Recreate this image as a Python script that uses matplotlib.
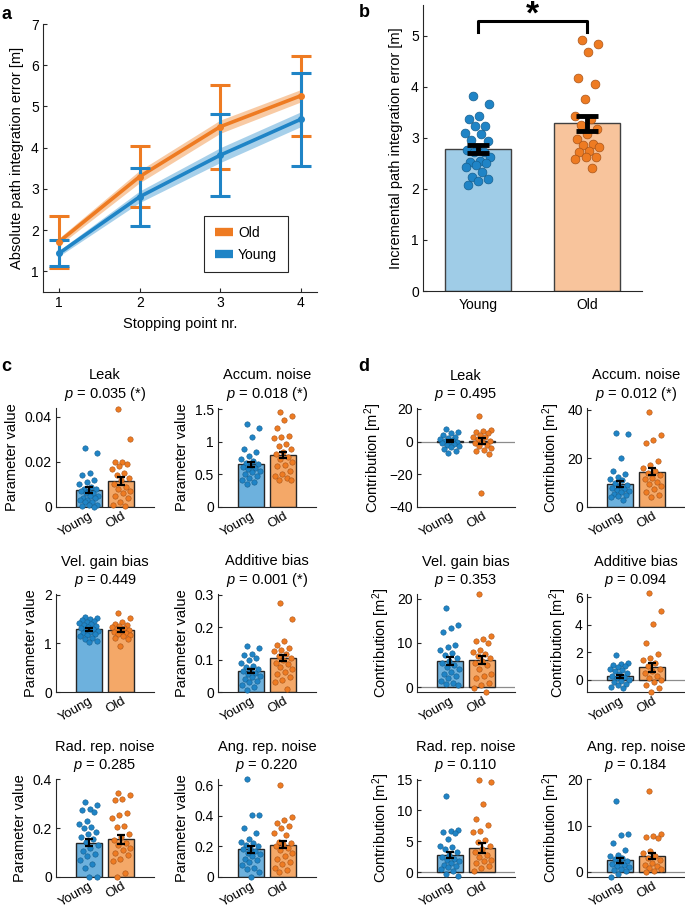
import matplotlib.pyplot as plt
from matplotlib.lines import Line2D
import numpy as np


plt.rcParams['font.family'] = ['Liberation Sans', 'DejaVu Sans']
plt.rcParams['mathtext.fontset'] = 'custom'
plt.rcParams['mathtext.rm'] = 'Liberation Sans'
plt.rcParams['mathtext.it'] = 'Liberation Sans:italic'
plt.rcParams['axes.linewidth'] = 0.8
plt.rcParams['axes.edgecolor'] = '0.15'

FIG_W, FIG_H = 685, 914

BLUE = '#1f84c6'
ORANGE = '#ee7b22'
BLUE_EDGE = '#165f8f'
ORANGE_EDGE = '#a9551a'
BLUE_BAR_LIGHT = '#9fcce7'
ORANGE_BAR_LIGHT = '#f8c49c'
BLUE_BAR = '#6db1dd'
ORANGE_BAR = '#f4a868'

# ---- panel a ----
STOPS = [1, 2, 3, 4]
OLD_MEAN = [1.72, 3.30, 4.51, 5.26]
OLD_SD = [0.63, 0.73, 1.02, 0.97]
OLD_SEM = [0.09, 0.15, 0.16, 0.15]
YOUNG_MEAN = [1.44, 2.81, 3.82, 4.69]
YOUNG_SD = [0.31, 0.70, 1.00, 1.13]
YOUNG_SEM = [0.07, 0.14, 0.18, 0.18]

# ---- panel b ----
GROUPS = ['Young', 'Old']
INC_YOUNG = [3.82, 3.67, 3.43, 3.37, 3.24, 3.24, 3.09, 3.08, 2.96, 2.93, 2.80, 2.77, 2.73,
             2.73, 2.62, 2.54, 2.52, 2.50, 2.46, 2.42, 2.33, 2.23, 2.20, 2.15, 2.07]
INC_OLD = [4.92, 4.84, 4.67, 4.18, 4.06, 3.75, 3.42, 3.37, 3.25, 3.18, 3.07, 2.97, 2.88,
           2.85, 2.82, 2.75, 2.72, 2.63, 2.62, 2.58, 2.41]
INC_MEAN = [2.78, 3.28]
INC_SEM = [0.08, 0.15]

# ---- panel c: parameter values ----
TITLES = ['Leak', 'Accum. noise', 'Vel. gain bias', 'Additive bias', 'Rad. rep. noise', 'Ang. rep. noise']
PARAM_P = ['0.035 (*)', '0.018 (*)', '0.449', '0.001 (*)', '0.285', '0.220']
CONTRIB_P = ['0.495', '0.012 (*)', '0.353', '0.094', '0.110', '0.184']

LEAK_YOUNG = [0.026, 0.024, 0.015, 0.014, 0.012, 0.011, 0.010, 0.009, 0.008, 0.008, 0.007, 0.007, 0.006,
              0.006, 0.005, 0.005, 0.004, 0.004, 0.003, 0.003, 0.002, 0.002, 0.001, 0.001, 0.0005, 0.0]
LEAK_OLD = [0.0435, 0.030, 0.020, 0.020, 0.019, 0.018, 0.017, 0.015, 0.014, 0.013, 0.012, 0.010, 0.009,
            0.008, 0.007, 0.006, 0.005, 0.004, 0.002, 0.001, 0.0005]
ACCUM_YOUNG = [1.27, 1.21, 1.07, 0.89, 0.85, 0.78, 0.74, 0.70, 0.68, 0.66, 0.63, 0.61, 0.60, 0.58,
               0.56, 0.53, 0.50, 0.47, 0.44, 0.42, 0.38, 0.36]
ACCUM_OLD = [1.46, 1.39, 1.33, 1.22, 1.09, 1.08, 1.06, 0.96, 0.93, 0.89, 0.84, 0.81, 0.76, 0.74,
             0.69, 0.64, 0.63, 0.56, 0.51, 0.48, 0.45, 0.42, 0.41]
VELGAIN_YOUNG = [1.55, 1.53, 1.50, 1.48, 1.46, 1.44, 1.42, 1.40, 1.38, 1.36, 1.34, 1.32, 1.30, 1.28,
                 1.26, 1.24, 1.22, 1.20, 1.18, 1.15, 1.12, 1.09, 1.05, 1.04]
VELGAIN_OLD = [1.62, 1.52, 1.45, 1.40, 1.38, 1.36, 1.34, 1.32, 1.30, 1.28, 1.26, 1.24, 1.22, 1.20,
               1.18, 1.15, 1.12, 1.10, 0.95]
ADDBIAS_YOUNG = [0.141, 0.136, 0.118, 0.113, 0.104, 0.098, 0.090, 0.080, 0.076, 0.072, 0.068, 0.064,
                 0.060, 0.056, 0.050, 0.045, 0.040, 0.035, 0.030, 0.022, 0.015, 0.005]
ADDBIAS_OLD = [0.275, 0.225, 0.158, 0.145, 0.135, 0.130, 0.125, 0.118, 0.110, 0.105, 0.098, 0.090,
               0.085, 0.078, 0.070, 0.062, 0.055, 0.045, 0.038, 0.030, 0.010]
RADNOISE_YOUNG = [0.305, 0.295, 0.280, 0.275, 0.265, 0.230, 0.215, 0.205, 0.200, 0.185, 0.175, 0.165,
                  0.155, 0.145, 0.130, 0.120, 0.105, 0.095, 0.085, 0.070, 0.055, 0.035, 0.0, 0.0]
RADNOISE_OLD = [0.345, 0.335, 0.320, 0.315, 0.260, 0.255, 0.240, 0.210, 0.205, 0.175, 0.165, 0.150,
                0.140, 0.130, 0.120, 0.110, 0.100, 0.090, 0.075, 0.065, 0.015, 0.0]
ANGNOISE_YOUNG = [0.637, 0.405, 0.405, 0.320, 0.287, 0.250, 0.230, 0.220, 0.210, 0.200, 0.190, 0.180,
                  0.170, 0.160, 0.150, 0.140, 0.120, 0.110, 0.100, 0.080, 0.060, 0.050, 0.030, 0.0]
ANGNOISE_OLD = [0.600, 0.390, 0.370, 0.355, 0.335, 0.320, 0.290, 0.275, 0.230, 0.225, 0.215, 0.200,
                0.190, 0.175, 0.160, 0.140, 0.120, 0.100, 0.085, 0.060, 0.045, 0.035]
PARAM_MEAN = [[0.0075, 0.0115], [0.655, 0.80], [1.29, 1.28], [0.065, 0.104], [0.14, 0.155], [0.18, 0.21]]
PARAM_SEM = [[0.0013, 0.0018], [0.04, 0.045], [0.03, 0.035], [0.007, 0.01], [0.015, 0.018], [0.022, 0.022]]

# ---- panel d: contributions ----
C_LEAK_YOUNG = [7.5, 6.0, 5.0, 4.0, 3.0, 2.0, 1.5, 1.0, 0.5, 0.0, -0.5, -1.0, -1.5, -2.0, -3.0, -3.5,
                -4.5, -5.5, -7.0]
C_LEAK_OLD = [15.5, 7.0, 6.5, 6.0, 5.0, 4.0, 3.0, 2.5, 1.5, 0.5, 0.0, -1.0, -2.0, -3.0, -4.0, -5.0,
              -6.0, -7.5, -31.5]
C_ACCUM_YOUNG = [30.5, 30.0, 20.0, 15.0, 13.5, 12.5, 11.5, 11.0, 10.0, 9.0, 8.5, 8.0, 7.5, 7.0, 6.5,
                 6.0, 5.5, 5.0, 4.5, 4.0, 3.0]
C_ACCUM_OLD = [39.0, 29.5, 27.5, 26.5, 19.0, 17.5, 16.0, 15.0, 14.0, 13.0, 12.0, 11.5, 10.5, 9.5,
               8.5, 7.5, 6.0, 5.0, 4.0]
C_VELGAIN_YOUNG = [18.0, 14.0, 13.5, 12.5, 9.5, 9.0, 8.5, 7.8, 7.2, 6.5, 6.0, 5.5, 5.0, 4.5, 4.0,
                   3.5, 3.0, 2.5, 2.0, 1.5, 1.0, 0.8, 0.5]
C_VELGAIN_OLD = [21.0, 11.5, 11.0, 10.5, 10.0, 8.5, 8.0, 7.5, 7.0, 6.5, 6.0, 5.5, 5.0, 4.0, 3.0, 2.5,
                 2.0, 1.0, 0.5, -0.3, -1.0]
C_ADDBIAS_YOUNG = [1.78, 1.2, 1.15, 1.1, 1.0, 0.9, 0.8, 0.7, 0.6, 0.5, 0.4, 0.3, 0.2, 0.1, 0.0, -0.1,
                   -0.2, -0.3, -0.4, -0.5, -0.6]
C_ADDBIAS_OLD = [6.3, 5.0, 4.05, 2.7, 1.85, 1.55, 1.4, 1.2, 1.0, 0.8, 0.6, 0.5, 0.3, 0.1, 0.0, -0.2,
                 -0.4, -0.6, -0.9]
C_RADNOISE_YOUNG = [12.4, 6.8, 6.7, 6.5, 6.3, 5.3, 4.3, 4.0, 3.7, 3.2, 2.8, 2.5, 2.2, 2.0, 1.8, 1.5,
                    1.2, 1.0, 0.8, 0.5, 0.2, -0.3, -0.7]
C_RADNOISE_OLD = [15.0, 14.6, 11.0, 8.6, 7.6, 6.6, 6.5, 5.2, 4.8, 4.3, 3.8, 3.2, 2.8, 2.5, 2.0, 1.8,
                  1.5, 1.0, 0.6, 0.2]
C_ANGNOISE_YOUNG = [15.3, 8.1, 7.9, 6.2, 4.7, 3.7, 3.4, 3.0, 2.7, 2.4, 2.1, 1.8, 1.5, 1.2, 1.0, 0.7,
                    0.4, 0.2, -0.4, -1.0]
C_ANGNOISE_OLD = [17.4, 8.1, 7.8, 7.5, 7.4, 4.5, 4.1, 3.5, 3.0, 2.5, 2.0, 1.6, 1.2, 0.9, 0.6, 0.3, 0.0]
CONTRIB_MEAN = [[0.3, 0.4], [9.5, 14.5], [5.9, 6.2], [0.25, 0.9], [2.8, 3.9], [2.5, 3.4]]
CONTRIB_SEM = [[0.8, 1.9], [1.3, 1.5], [0.9, 0.9], [0.12, 0.33], [0.5, 0.85], [0.5, 0.7]]

PARAM_POINTS = [(LEAK_YOUNG, LEAK_OLD), (ACCUM_YOUNG, ACCUM_OLD), (VELGAIN_YOUNG, VELGAIN_OLD),
                (ADDBIAS_YOUNG, ADDBIAS_OLD), (RADNOISE_YOUNG, RADNOISE_OLD), (ANGNOISE_YOUNG, ANGNOISE_OLD)]
CONTRIB_POINTS = [(C_LEAK_YOUNG, C_LEAK_OLD), (C_ACCUM_YOUNG, C_ACCUM_OLD), (C_VELGAIN_YOUNG, C_VELGAIN_OLD),
                  (C_ADDBIAS_YOUNG, C_ADDBIAS_OLD), (C_RADNOISE_YOUNG, C_RADNOISE_OLD),
                  (C_ANGNOISE_YOUNG, C_ANGNOISE_OLD)]

PARAM_YLIM = [(0, 0.044), (0, 1.52), (0, 2.02), (0, 0.302), (0, 0.401), (0, 0.64)]
PARAM_TICKS = [[0, 0.02, 0.04], [0, 0.5, 1, 1.5], [0, 1, 2], [0, 0.1, 0.2, 0.3], [0, 0.2, 0.4],
               [0, 0.2, 0.4, 0.6]]
CONTRIB_YLIM = [(-40, 20.5), (0, 40.8), (-1.1, 21.1), (-0.9, 6.25), (-0.8, 15.1), (-1.1, 20.1)]
CONTRIB_TICKS = [[-40, -20, 0, 20], [0, 20, 40], [0, 10, 20], [0, 2, 4, 6], [0, 5, 10, 15], [0, 10, 20]]


def px_axes(fig, left, top, right, bottom):
    return fig.add_axes([left / FIG_W, 1 - bottom / FIG_H, (right - left) / FIG_W, (bottom - top) / FIG_H])


def jitter(n, spread):
    return ((np.arange(n) * 0.618034 + 0.31) % 1 - 0.5) * 2 * spread


def fmt(v):
    return f'{v:g}'.replace('-', '\u2212')


def style_axes(ax):
    for side in ('top', 'right'):
        ax.spines[side].set_visible(False)
    ax.tick_params(direction='in', length=3, width=0.8, color='0.15', labelsize=10, pad=3)


def small_panel(ax, points, means, sems, title, pval, ylabel, ylim, ticks, zero_line):
    style_axes(ax)
    if zero_line:
        ax.axhline(0, color='0.55', lw=0.9, zorder=1)
    ax.bar([1, 2], means, width=0.8, color=[BLUE_BAR, ORANGE_BAR], edgecolor='0.15', linewidth=1, zorder=2)
    for x, vals, c, ec in zip([1, 2], points, [BLUE, ORANGE], [BLUE_EDGE, ORANGE_EDGE]):
        ax.scatter(x + jitter(len(vals), 0.3), vals, s=15, color=c, edgecolors=ec, linewidths=0.4,
                   zorder=3, clip_on=False)
    ax.errorbar([1, 2], means, yerr=sems, fmt='none', ecolor='k', elinewidth=1.6, capsize=3,
                capthick=1.6, zorder=4)
    ax.set_xlim(0, 3)
    ax.set_ylim(*ylim)
    ax.set_yticks(ticks)
    ax.set_yticklabels([fmt(t) for t in ticks])
    ax.set_xticks([1, 2])
    ax.set_xticklabels(GROUPS, rotation=30, ha='right', rotation_mode='anchor')
    ax.tick_params(axis='x', length=0, pad=2, labelsize=9.5)
    ax.set_title(f'{title}\n$p$ = {pval}', fontsize=10.5, pad=7, linespacing=1.25)
    ax.set_ylabel(ylabel, fontsize=10.5, labelpad=4)


def main():
    fig = plt.figure(figsize=(FIG_W / 100, FIG_H / 100), dpi=100)

    # ---- a ----
    ax = px_axes(fig, 43, 24, 317, 292)
    style_axes(ax)
    for mean, sd, sem, c, bc in [(OLD_MEAN, OLD_SD, OLD_SEM, ORANGE, ORANGE_BAR),
                                 (YOUNG_MEAN, YOUNG_SD, YOUNG_SEM, BLUE, BLUE_BAR)]:
        m = np.array(mean)
        s = np.array(sem)
        ax.fill_between(STOPS, m - s, m + s, color=bc, alpha=0.6, lw=0, zorder=2)
        ax.plot(STOPS, m, color=c, lw=2.6, zorder=3)
        ax.errorbar(STOPS, m, yerr=sd, fmt='o', ms=4, color=c, elinewidth=2.2, capsize=7,
                    capthick=2.2, zorder=4)
    ax.set_xlim(0.8, 4.2)
    ax.set_ylim(0.5, 7)
    ax.set_xticks(STOPS)
    ax.set_yticks(range(1, 8))
    ax.set_xlabel('Stopping point nr.', fontsize=10.5, labelpad=5)
    ax.set_ylabel('Absolute path integration error [m]', fontsize=10.5, labelpad=5)
    handles = [Line2D([], [], color=ORANGE, lw=6, solid_capstyle='butt'),
               Line2D([], [], color=BLUE, lw=6, solid_capstyle='butt')]
    leg = ax.legend(handles, ['Old', 'Young'], loc='upper left', bbox_to_anchor=(0.588, 0.284),
                    borderaxespad=0, fontsize=10, fancybox=False, framealpha=1, edgecolor='0.15',
                    handlelength=1.3, borderpad=0.75, labelspacing=0.55, handletextpad=0.4)
    leg.get_frame().set_linewidth(0.8)

    # ---- b ----
    ax = px_axes(fig, 423, 5, 642, 291)
    style_axes(ax)
    ax.bar([1, 2], INC_MEAN, width=0.6, color=[BLUE_BAR_LIGHT, ORANGE_BAR_LIGHT], edgecolor='0.25',
           linewidth=1, zorder=2)
    for x, vals, c, ec in zip([1, 2], [INC_YOUNG, INC_OLD], [BLUE, ORANGE], [BLUE_EDGE, ORANGE_EDGE]):
        ax.scatter(x + jitter(len(vals), 0.12), vals, s=40, color=c, edgecolors=ec, linewidths=0.5,
                   zorder=3)
    ax.errorbar([1, 2], INC_MEAN, yerr=INC_SEM, fmt='none', ecolor='k', elinewidth=3.5, capsize=8,
                capthick=3.5, zorder=4)
    ax.plot([1, 1, 2, 2], [5.08, 5.29, 5.29, 5.08], color='k', lw=2.2, clip_on=False)
    ax.text(1.5, 5.24, '*', fontsize=24, fontweight='bold', ha='center', va='baseline')
    ax.set_xlim(0.5, 2.5)
    ax.set_ylim(0, 5.6)
    ax.set_xticks([1, 2])
    ax.set_xticklabels(GROUPS)
    ax.tick_params(axis='x', length=0, pad=5)
    ax.set_yticks(range(0, 6))
    ax.set_ylabel('Incremental path integration error [m]', fontsize=10.5, labelpad=6)

    # ---- c and d ----
    rows = [(408, 507), (594, 692), (779, 877)]
    for i in range(6):
        top, bottom = rows[i // 2]
        left = [56, 218][i % 2]
        ax = px_axes(fig, left, top, left + 98, bottom)
        small_panel(ax, PARAM_POINTS[i], PARAM_MEAN[i], PARAM_SEM[i], TITLES[i], PARAM_P[i],
                    'Parameter value', PARAM_YLIM[i], PARAM_TICKS[i], False)
        left = [417, 587][i % 2]
        ax = px_axes(fig, left, top, left + 98, bottom)
        small_panel(ax, CONTRIB_POINTS[i], CONTRIB_MEAN[i], CONTRIB_SEM[i], TITLES[i], CONTRIB_P[i],
                    'Contribution [m$^2$]', CONTRIB_YLIM[i], CONTRIB_TICKS[i], True)

    for lab, x, y in [('a', 1, 6), ('b', 359, 4), ('c', 1, 358), ('d', 358, 358)]:
        fig.text(x / FIG_W, 1 - y / FIG_H, lab, fontsize=13, fontweight='bold', ha='left', va='top')

    fig.savefig('out.png', dpi=100)


if __name__ == "__main__":
    main()
